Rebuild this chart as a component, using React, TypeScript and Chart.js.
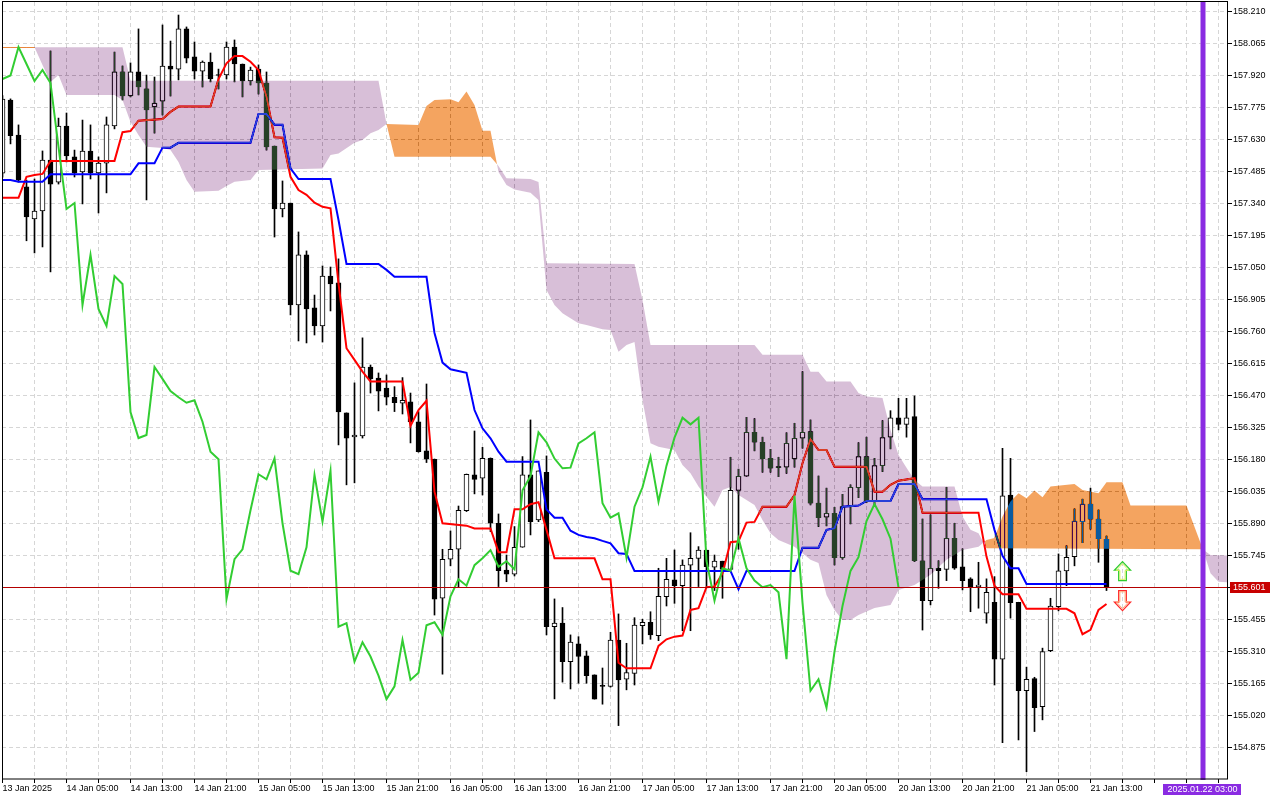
import React, { useEffect, useRef } from "react";
import { Chart, registerables } from "chart.js";

Chart.register(...registerables);

// ---------- data (H1 candles) ----------
const timeLabelIdx = [0, 8, 16, 24, 32, 40, 48, 56, 64, 72, 80, 88, 96, 104, 112, 120, 128, 136];
const timeLabels = [
  "13 Jan 2025", "14 Jan 05:00", "14 Jan 13:00", "14 Jan 21:00", "15 Jan 05:00", "15 Jan 13:00",
  "15 Jan 21:00", "16 Jan 05:00", "16 Jan 13:00", "16 Jan 21:00", "17 Jan 05:00", "17 Jan 13:00",
  "17 Jan 21:00", "20 Jan 05:00", "20 Jan 13:00", "20 Jan 21:00", "21 Jan 05:00", "21 Jan 13:00",
];

const openP = [
  157.478, 157.810, 157.651, 157.416, 157.271, 157.307, 157.538, 157.438, 157.692, 157.552,
  157.484, 157.579, 157.479, 157.524, 157.692, 157.937, 157.828, 157.937, 157.860, 157.778,
  157.805, 157.964, 157.950, 158.132, 158.005, 157.941, 157.982, 157.925, 157.923, 158.050,
  157.973, 157.896, 157.950, 157.887, 157.601, 157.316, 157.343, 156.881, 157.108, 156.868,
  156.786, 157.012, 156.981, 156.392, 156.283, 156.288, 156.600, 156.550, 156.504, 156.463,
  156.436, 156.442, 156.352, 156.220, 156.182, 155.552, 155.729, 155.774, 155.949, 156.111,
  156.096, 156.186, 155.892, 155.680, 155.661, 155.783, 156.111, 155.907, 156.123, 155.423,
  155.439, 155.265, 155.345, 155.291, 155.205, 155.157, 155.152, 155.363, 155.185, 155.212,
  155.428, 155.443, 155.383, 155.559, 155.635, 155.609, 155.702, 155.733, 155.770, 155.693,
  155.720, 155.683, 156.041, 156.105, 156.304, 156.259, 156.186, 156.148, 156.146, 156.183,
  156.277, 156.307, 155.983, 155.919, 155.937, 155.736, 155.967, 156.053, 156.194, 155.990,
  156.153, 156.282, 156.370, 156.340, 156.375, 155.722, 155.541, 155.688, 155.683, 155.824,
  155.695, 155.640, 155.605, 155.484, 155.534, 155.276, 156.020, 155.534, 155.133, 155.188,
  155.061, 155.315, 155.514, 155.676, 155.741, 155.899, 155.979, 155.911, 155.819,
];
const highP = [
  157.830, 157.815, 157.697, 157.447, 157.452, 157.579, 158.032, 157.728, 157.751, 157.583,
  157.719, 157.697, 157.552, 157.733, 158.027, 157.964, 157.978, 158.132, 157.923, 157.914,
  158.150, 158.077, 158.195, 158.141, 158.073, 157.987, 158.023, 157.950, 158.073, 158.082,
  157.973, 157.959, 157.969, 157.937, 157.601, 157.443, 157.343, 157.212, 157.126, 156.926,
  157.058, 157.053, 157.090, 156.392, 156.528, 156.732, 156.609, 156.573, 156.564, 156.511,
  156.552, 156.482, 156.398, 156.523, 156.183, 155.774, 155.857, 155.970, 156.115, 156.310,
  156.236, 156.188, 155.934, 155.748, 155.877, 156.194, 156.360, 156.129, 156.197, 155.549,
  155.510, 155.386, 155.378, 155.313, 155.205, 155.236, 155.398, 155.481, 155.348, 155.464,
  155.457, 155.491, 155.688, 155.733, 155.771, 155.726, 155.849, 155.786, 155.770, 155.748,
  155.720, 156.191, 156.137, 156.372, 156.366, 156.282, 156.227, 156.191, 156.302, 156.345,
  156.579, 156.360, 156.106, 156.051, 155.964, 156.023, 156.066, 156.257, 156.282, 156.186,
  156.357, 156.402, 156.458, 156.458, 156.469, 155.911, 155.930, 155.722, 156.055, 155.892,
  155.776, 155.645, 155.715, 155.640, 155.650, 156.232, 156.186, 155.534, 155.240, 155.194,
  155.326, 155.552, 155.753, 155.790, 155.957, 156.001, 156.051, 155.952, 155.834,
];
const lowP = [
  157.460, 157.611, 157.438, 157.172, 157.117, 157.144, 157.031, 157.429, 157.529, 157.461,
  157.339, 157.452, 157.298, 157.389, 157.679, 157.810, 157.824, 157.833, 157.357, 157.660,
  157.742, 157.828, 157.901, 157.978, 157.905, 157.869, 157.892, 157.860, 157.905, 157.892,
  157.824, 157.878, 157.837, 157.583, 157.189, 157.280, 156.836, 156.718, 156.709, 156.745,
  156.713, 156.854, 156.247, 156.066, 156.075, 156.278, 156.482, 156.401, 156.428, 156.398,
  156.387, 156.256, 156.214, 156.167, 155.476, 155.208, 155.699, 155.602, 155.945, 156.025,
  156.020, 155.854, 155.605, 155.627, 155.653, 155.783, 155.839, 155.899, 155.386, 155.096,
  155.172, 155.141, 155.167, 155.167, 155.095, 155.072, 155.149, 154.975, 155.137, 155.159,
  155.345, 155.366, 155.360, 155.517, 155.529, 155.405, 155.405, 155.605, 155.605, 155.587,
  155.552, 155.683, 155.774, 156.105, 156.220, 156.123, 156.123, 156.103, 156.118, 156.146,
  156.232, 155.975, 155.877, 155.880, 155.703, 155.729, 155.889, 156.008, 155.985, 155.970,
  156.126, 156.229, 156.315, 156.282, 155.718, 155.408, 155.522, 155.597, 155.632, 155.683,
  155.590, 155.491, 155.507, 155.439, 155.159, 154.898, 155.462, 154.910, 154.766, 154.948,
  155.001, 155.310, 155.495, 155.609, 155.699, 155.804, 155.865, 155.715, 155.587,
];
const closeP = [
  157.814, 157.648, 157.447, 157.280, 157.307, 157.538, 157.429, 157.692, 157.556, 157.479,
  157.579, 157.479, 157.524, 157.697, 157.937, 157.828, 157.937, 157.869, 157.765, 157.796,
  157.964, 157.950, 158.132, 158.000, 157.941, 157.982, 157.905, 157.921, 158.050, 157.973,
  157.896, 157.946, 157.887, 157.597, 157.316, 157.343, 156.881, 157.108, 156.863, 156.786,
  157.012, 156.976, 156.396, 156.278, 156.292, 156.600, 156.546, 156.491, 156.463, 156.438,
  156.449, 156.352, 156.216, 156.182, 155.548, 155.729, 155.774, 155.951, 156.114, 156.091,
  156.186, 155.892, 155.677, 155.661, 155.783, 156.111, 155.899, 156.129, 155.423, 155.439,
  155.265, 155.353, 155.288, 155.201, 155.095, 155.153, 155.363, 155.182, 155.215, 155.430,
  155.443, 155.386, 155.561, 155.638, 155.609, 155.702, 155.733, 155.770, 155.695, 155.720,
  155.683, 156.041, 156.105, 156.304, 156.259, 156.185, 156.141, 156.144, 156.254, 156.277,
  156.304, 155.983, 155.917, 155.937, 155.736, 155.967, 156.055, 156.194, 155.990, 156.153,
  156.280, 156.370, 156.340, 156.370, 155.722, 155.541, 155.688, 155.677, 155.824, 155.688,
  155.632, 155.602, 155.612, 155.579, 155.276, 156.016, 155.532, 155.133, 155.185, 155.056,
  155.310, 155.517, 155.676, 155.738, 155.902, 155.979, 155.910, 155.822, 155.601,
];

// Ichimoku lines as [bar index, price] points
const tenkan = [
  [0, 157.367], [2, 157.367], [3, 157.462], [4, 157.47], [5, 157.475], [6, 157.534], [14, 157.534],
  [15, 157.664], [16, 157.669], [17, 157.716], [20, 157.724], [21, 157.756], [22, 157.78], [26, 157.78],
  [27, 157.905], [28, 157.976], [29, 158.009], [30, 158.009], [31, 157.983], [32, 157.946], [33, 157.825],
  [34, 157.641], [35, 157.639], [36, 157.462], [37, 157.402], [38, 157.38], [39, 157.345], [40, 157.326],
  [41, 157.319], [42, 156.979], [43, 156.685], [44, 156.632], [45, 156.579], [46, 156.534], [50, 156.534],
  [51, 156.333], [52, 156.405], [53, 156.447], [54, 156.035], [55, 155.892], [58, 155.881], [59, 155.868],
  [61, 155.868], [62, 155.761], [63, 155.761], [64, 155.955], [65, 155.955], [66, 155.978], [67, 155.987],
  [68, 155.862], [69, 155.733], [74, 155.733], [75, 155.638], [76, 155.638], [77, 155.26], [78, 155.235],
  [81, 155.235], [82, 155.336], [83, 155.366], [84, 155.378], [85, 155.383], [86, 155.499], [87, 155.507],
  [88, 155.602], [89, 155.605], [90, 155.665], [91, 155.806], [92, 155.81], [93, 155.895], [94, 155.898],
  [95, 155.967], [98, 155.967], [99, 156.02], [100, 156.164], [101, 156.273], [102, 156.224], [103, 156.224],
  [104, 156.148], [108, 156.148], [109, 156.035], [110, 156.035], [111, 156.066], [112, 156.085],
  [114, 156.096], [115, 155.94], [122, 155.94], [123, 155.741], [124, 155.609], [125, 155.57], [127, 155.57],
  [128, 155.504], [133, 155.504], [134, 155.484], [135, 155.389], [136, 155.409], [137, 155.499], [138, 155.526],
];
const kijun = [
  [0, 157.447], [1, 157.447], [2, 157.44], [5, 157.44], [6, 157.473], [16, 157.473], [17, 157.523],
  [19, 157.523], [20, 157.594], [21, 157.594], [22, 157.616], [31, 157.616], [32, 157.746], [33, 157.746],
  [34, 157.698], [35, 157.698], [36, 157.5], [37, 157.452], [41, 157.452], [42, 157.266], [43, 157.067],
  [47, 157.067], [48, 157.04], [49, 157.009], [53, 157.009], [54, 156.754], [55, 156.62], [56, 156.59],
  [58, 156.574], [59, 156.405], [60, 156.322], [61, 156.277], [62, 156.216], [63, 156.171], [67, 156.171],
  [68, 155.955], [69, 155.917], [70, 155.917], [71, 155.858], [72, 155.839], [73, 155.83], [74, 155.824],
  [75, 155.812], [76, 155.801], [77, 155.756], [78, 155.753], [79, 155.676], [91, 155.676], [92, 155.593],
  [93, 155.676], [99, 155.676], [100, 155.781], [102, 155.781], [103, 155.862], [104, 155.869],
  [105, 155.967], [107, 155.972], [108, 155.993], [111, 155.993], [112, 156.07], [114, 156.07],
  [115, 156.001], [123, 156.001], [124, 155.862], [125, 155.744], [126, 155.688], [127, 155.688],
  [128, 155.617], [138, 155.617],
];
const spanA = [
  [0, 158.049], [4, 158.049], [5, 157.969], [6, 157.892], [7, 157.923], [8, 157.833], [14, 157.833],
  [15, 157.81], [16, 157.71], [17, 157.651], [18, 157.598], [20, 157.592], [21, 157.583], [22, 157.529],
  [23, 157.447], [24, 157.394], [27, 157.399], [28, 157.42], [29, 157.44], [31, 157.447], [32, 157.493],
  [40, 157.5], [41, 157.561], [42, 157.568], [44, 157.616], [45, 157.629], [46, 157.659], [47, 157.674],
  [48, 157.701], [52, 157.697], [53, 157.783], [54, 157.81], [56, 157.813], [57, 157.8], [58, 157.848],
  [59, 157.787], [60, 157.671], [61, 157.671], [62, 157.484], [63, 157.425], [64, 157.404], [66, 157.39],
  [67, 157.357], [68, 156.949], [69, 156.881], [70, 156.843], [72, 156.798], [73, 156.79], [75, 156.771],
  [76, 156.768], [77, 156.669], [78, 156.7], [79, 156.713], [80, 156.451], [81, 156.254], [82, 156.239],
  [84, 156.224], [85, 156.156], [86, 156.118], [87, 156.058], [88, 156.012], [89, 155.967], [90, 156.043],
  [91, 156.056], [92, 156.02], [94, 155.975], [95, 155.907], [96, 155.847], [97, 155.816], [99, 155.786],
  [100, 155.756], [101, 155.726], [102, 155.712], [103, 155.567], [104, 155.499], [105, 155.454],
  [106, 155.454], [107, 155.476], [109, 155.508], [111, 155.522], [112, 155.59], [114, 155.612],
  [116, 155.658], [118, 155.726], [120, 155.771], [122, 155.786], [123, 155.816], [124, 155.825],
  [125, 155.922], [126, 155.99], [127, 156.028], [128, 156.005], [129, 156.04], [130, 156.01],
  [131, 156.058], [134, 156.07], [135, 156.043], [137, 156.028], [138, 156.078], [140, 156.078],
  [141, 155.972], [148, 155.972], [150, 155.779], [151, 155.665], [152, 155.627], [154, 155.623],
];
const spanB = [
  [0, 158.049], [15, 158.049], [16, 157.897], [47, 157.897], [48, 157.701], [49, 157.553], [61, 157.553],
  [62, 157.511], [63, 157.455], [66, 157.452], [67, 157.438], [68, 157.07], [79, 157.067], [80, 156.904],
  [81, 156.7], [94, 156.7], [95, 156.655], [100, 156.655], [101, 156.579], [102, 156.579], [103, 156.534],
  [106, 156.534], [107, 156.482], [108, 156.466], [110, 156.46], [111, 156.315], [112, 156.201],
  [113, 156.143], [114, 156.088], [115, 156.058], [119, 156.058], [120, 155.922], [121, 155.862],
  [122, 155.847], [123, 155.779], [150, 155.774], [151, 155.748], [154, 155.744],
];
const chikouShift = 26;

const priceTicks = [
  154.875, 155.02, 155.165, 155.31, 155.455, 155.6, 155.745, 155.89, 156.035, 156.18, 156.325, 156.47,
  156.615, 156.76, 156.905, 157.05, 157.195, 157.34, 157.485, 157.63, 157.775, 157.92, 158.065, 158.21,
];
const lastPrice = 155.601;
const markerIdx = 150;
const markerLabel = "2025.01.22 03:00";
const signalIdx = 140;
const upArrowPrices = [155.632, 155.718]; // base, tip
const downArrowPrices = [155.587, 155.496]; // base, tip

// ---------- view ----------
const X_MIN = -0.0625;
const X_MAX = 153.0625;
const Y_MIN = 154.733;
const Y_MAX = 158.254;
const FONT = "'Liberation Sans', Arial, sans-serif";
const GRID = "#d6d6d6";
const KIJUN_DS = 3;

function pathTo(ctx: any, pts: number[][], closeY: number) {
  ctx.beginPath();
  ctx.moveTo(pts[0][0], pts[0][1]);
  for (let i = 1; i < pts.length; i++) ctx.lineTo(pts[i][0], pts[i][1]);
  ctx.lineTo(pts[pts.length - 1][0], closeY);
  ctx.lineTo(pts[0][0], closeY);
  ctx.closePath();
}

// value of a broken line at a bar index (used only to find where both spans coincide)
function valueAt(line: number[][], idx: number) {
  for (let k = 0; k < line.length - 1; k++) {
    const [x0, y0] = line[k];
    const [x1, y1] = line[k + 1];
    if (idx >= x0 && idx <= x1) return x1 === x0 ? y0 : y0 + ((y1 - y0) * (idx - x0)) / (x1 - x0);
  }
  return NaN;
}

function drawCloud(chart: any) {
  const { ctx, chartArea, scales } = chart;
  const xs = scales.x;
  const ys = scales.y;
  const a = spanA.map(([i, v]) => [xs.getPixelForValue(i), ys.getPixelForValue(v)]);
  const b = spanB.map(([i, v]) => [xs.getPixelForValue(i), ys.getPixelForValue(v)]);
  const top = chartArea.top - 50;
  const bot = chartArea.bottom + 50;
  ctx.save();
  ctx.beginPath();
  ctx.rect(chartArea.left, chartArea.top, chartArea.right - chartArea.left, chartArea.bottom - chartArea.top);
  ctx.clip();
  ctx.globalCompositeOperation = "difference";
  // Span A above Span B -> sandy brown
  ctx.save();
  pathTo(ctx, a, bot);
  ctx.clip();
  pathTo(ctx, b, top);
  ctx.fillStyle = "rgb(11,91,159)";
  ctx.fill();
  ctx.restore();
  // Span B above Span A -> thistle
  ctx.save();
  pathTo(ctx, b, bot);
  ctx.clip();
  pathTo(ctx, a, top);
  ctx.fillStyle = "rgb(39,64,39)";
  ctx.fill();
  ctx.restore();
  // where both spans coincide the filling collapses to a 1px line
  ctx.strokeStyle = "rgb(11,91,159)";
  ctx.lineWidth = 1;
  const last = spanA[spanA.length - 1][0];
  for (let i = 0; i < last; i++) {
    const a0 = valueAt(spanA, i), b0 = valueAt(spanB, i);
    const a1 = valueAt(spanA, i + 1), b1 = valueAt(spanB, i + 1);
    if (Math.abs(a0 - b0) < 0.0005 && Math.abs(a1 - b1) < 0.0005) {
      const yy = Math.round(ys.getPixelForValue(a0)) + 0.5;
      ctx.beginPath();
      ctx.moveTo(i === 0 ? chartArea.left : xs.getPixelForValue(i), yy);
      ctx.lineTo(xs.getPixelForValue(i + 1), Math.round(ys.getPixelForValue(a1)) + 0.5);
      ctx.stroke();
    }
  }
  ctx.restore();
}

function arrowPath(ctx: any, cx: number, yBase: number, yTip: number, headW: number, shaftW: number, headH: number) {
  const dir = yTip < yBase ? -1 : 1;
  const yNeck = yTip - dir * headH;
  ctx.beginPath();
  ctx.moveTo(cx, yTip);
  ctx.lineTo(cx + headW, yNeck);
  ctx.lineTo(cx + shaftW, yNeck);
  ctx.lineTo(cx + shaftW, yBase);
  ctx.lineTo(cx - shaftW, yBase);
  ctx.lineTo(cx - shaftW, yNeck);
  ctx.lineTo(cx - headW, yNeck);
  ctx.closePath();
}

function drawArrow(ctx: any, cx: number, yBase: number, yTip: number, outer: string, inner: string) {
  const dir = yTip < yBase ? -1 : 1;
  ctx.save();
  ctx.lineJoin = "miter";
  ctx.lineWidth = 1.3;
  ctx.strokeStyle = outer;
  arrowPath(ctx, cx, yBase, yTip, 8, 3.8, 8.5);
  ctx.stroke();
  ctx.lineWidth = 1;
  ctx.strokeStyle = inner;
  arrowPath(ctx, cx, yBase + dir * 1.3, yTip - dir * 2, 6.2, 2.6, 6.8);
  ctx.stroke();
  ctx.restore();
}

function drawOverlay(chart: any) {
  const { ctx, chartArea, scales } = chart;
  const xs = scales.x;
  const ys = scales.y;
  ctx.save();
  // current price line
  const py = Math.round(ys.getPixelForValue(lastPrice)) + 0.5;
  ctx.strokeStyle = "#b40000";
  ctx.lineWidth = 1;
  ctx.beginPath();
  ctx.moveTo(chartArea.left, py);
  ctx.lineTo(chartArea.right, py);
  ctx.stroke();
  // future time marker
  const mx = xs.getPixelForValue(markerIdx);
  ctx.fillStyle = "#8a2be2";
  ctx.fillRect(Math.round(mx) - 2.5, chartArea.top, 5, chartArea.bottom - chartArea.top + 1);
  // frame
  ctx.strokeStyle = "#000";
  ctx.lineWidth = 1;
  ctx.strokeRect(chartArea.left + 0.5, chartArea.top - 0.5, chartArea.right - chartArea.left, chartArea.bottom - chartArea.top + 0.5);
  // signal arrows
  const ax = xs.getPixelForValue(signalIdx);
  drawArrow(ctx, ax, ys.getPixelForValue(upArrowPrices[0]), ys.getPixelForValue(upArrowPrices[1]), "#2ecc2e", "#d8f060");
  drawArrow(ctx, ax, ys.getPixelForValue(downArrowPrices[0]), ys.getPixelForValue(downArrowPrices[1]), "#ff2a2a", "#ffb07a");
  // price label
  ctx.font = `9px ${FONT}`;
  ctx.textBaseline = "middle";
  const priceTxt = lastPrice.toFixed(3);
  ctx.fillStyle = "#c80000";
  ctx.fillRect(chartArea.right + 3, py - 5.5, 40, 11);
  ctx.fillStyle = "#fff";
  ctx.textAlign = "left";
  ctx.fillText(priceTxt, chartArea.right + 6, py + 0.5);
  // time label of the marker
  const tw = ctx.measureText(markerLabel).width + 8;
  ctx.fillStyle = "#8a2be2";
  ctx.fillRect(Math.round(mx - tw / 2), chartArea.bottom + 5, Math.round(tw), 11);
  ctx.fillStyle = "#fff";
  ctx.textAlign = "center";
  ctx.fillText(markerLabel, mx, chartArea.bottom + 11);
  ctx.restore();
}

const decorPlugin = {
  id: "ichimokuDecor",
  beforeDraw(chart: any) {
    const { ctx, width, height } = chart;
    ctx.save();
    ctx.fillStyle = "#fff";
    ctx.fillRect(0, 0, width, height);
    ctx.restore();
  },
  afterDatasetDraw(chart: any, args: any) {
    if (args.index === KIJUN_DS) drawCloud(chart);
  },
  afterDraw(chart: any) {
    drawOverlay(chart);
  },
};

export default function App() {
  const ref = useRef<HTMLCanvasElement | null>(null);

  useEffect(() => {
    const canvas = ref.current;
    if (!canvas) return;
    const wickData = openP.map((_, i) => ({ x: i, y: [lowP[i], highP[i]] }));
    const bodyData = openP.map((o, i) => ({ x: i, y: [o, closeP[i]] }));
    const bodyColors = openP.map((o, i) => (closeP[i] > o ? "#ffffff" : "#000000"));
    const chikou = closeP.slice(chikouShift).map((c, j) => ({ x: j, y: c }));
    const toXY = (arr: number[][]) => arr.map(([x, y]) => ({ x, y }));
    const gridIdx: number[] = [];
    for (let i = 0; i <= 152; i += 4) gridIdx.push(i);

    const chart = new Chart(canvas, {
      type: "bar",
      data: {
        datasets: [
          {
            type: "bar",
            label: "wick",
            data: wickData as any,
            backgroundColor: "#000",
            barThickness: 1,
            grouped: false,
            order: 6,
          },
          {
            type: "bar",
            label: "body",
            data: bodyData as any,
            backgroundColor: bodyColors,
            borderColor: "#000",
            borderWidth: 1,
            borderSkipped: false,
            barThickness: 5,
            minBarLength: 1,
            grouped: false,
            order: 5,
          },
          {
            type: "line",
            label: "Tenkan-sen",
            data: toXY(tenkan) as any,
            borderColor: "#ff0000",
            borderWidth: 2,
            pointRadius: 0,
            tension: 0,
            order: 4,
          },
          {
            type: "line",
            label: "Kijun-sen",
            data: toXY(kijun) as any,
            borderColor: "#0000ff",
            borderWidth: 2,
            pointRadius: 0,
            tension: 0,
            order: 3,
          },
          {
            type: "line",
            label: "Senkou Span A",
            data: toXY(spanA) as any,
            showLine: false,
            pointRadius: 0,
            order: 2,
          },
          {
            type: "line",
            label: "Senkou Span B",
            data: toXY(spanB) as any,
            showLine: false,
            pointRadius: 0,
            order: 2,
          },
          {
            type: "line",
            label: "Chikou Span",
            data: chikou as any,
            borderColor: "#32cd32",
            borderWidth: 2,
            pointRadius: 0,
            tension: 0,
            order: 1,
          },
        ],
      },
      options: {
        responsive: false,
        devicePixelRatio: 1,
        animation: false,
        events: [],
        layout: { padding: { left: 2, top: 2, right: 0, bottom: 0 } },
        plugins: { legend: { display: false }, tooltip: { enabled: false }, title: { display: false } },
        scales: {
          x: {
            type: "linear",
            offset: false,
            min: X_MIN,
            max: X_MAX,
            afterBuildTicks: (axis: any) => {
              axis.ticks = gridIdx.map((v) => ({ value: v }));
            },
            afterFit: (axis: any) => {
              axis.height = 21;
              axis.paddingLeft = 0;
              axis.paddingRight = 0;
            },
            ticks: {
              autoSkip: false,
              maxRotation: 0,
              minRotation: 0,
              align: "start",
              padding: 0,
              color: "#000",
              font: { family: FONT, size: 9 },
              callback: (value: any) => {
                const k = timeLabelIdx.indexOf(Number(value));
                return k >= 0 ? timeLabels[k] : "";
              },
            },
            grid: {
              offset: false,
              color: GRID,
              lineWidth: 1,
              drawTicks: true,
              tickLength: 4,
              tickColor: "#000",
              tickBorderDash: [],
            },
            border: { display: false, dash: [4, 3] },
          },
          y: {
            type: "linear",
            position: "right",
            min: Y_MIN,
            max: Y_MAX,
            afterBuildTicks: (axis: any) => {
              axis.ticks = priceTicks.map((v) => ({ value: v }));
            },
            afterFit: (axis: any) => {
              axis.width = 53;
              axis.paddingTop = 0;
              axis.paddingBottom = 0;
            },
            ticks: {
              autoSkip: false,
              padding: 1,
              color: "#000",
              font: { family: FONT, size: 9 },
              callback: (value: any) => Number(value).toFixed(3),
            },
            grid: {
              color: GRID,
              lineWidth: 1,
              drawTicks: true,
              tickLength: 5,
              tickColor: "#000",
              tickBorderDash: [],
            },
            border: { display: false, dash: [4, 3] },
          },
        },
      } as any,
      plugins: [decorPlugin as any],
    });
    return () => chart.destroy();
  }, []);

  return (
    <div style={{ position: "fixed", left: 0, top: 0, width: 1280, height: 800, background: "#fff" }}>
      <canvas ref={ref} width={1280} height={800} style={{ display: "block", width: 1280, height: 800 }} />
    </div>
  );
}
